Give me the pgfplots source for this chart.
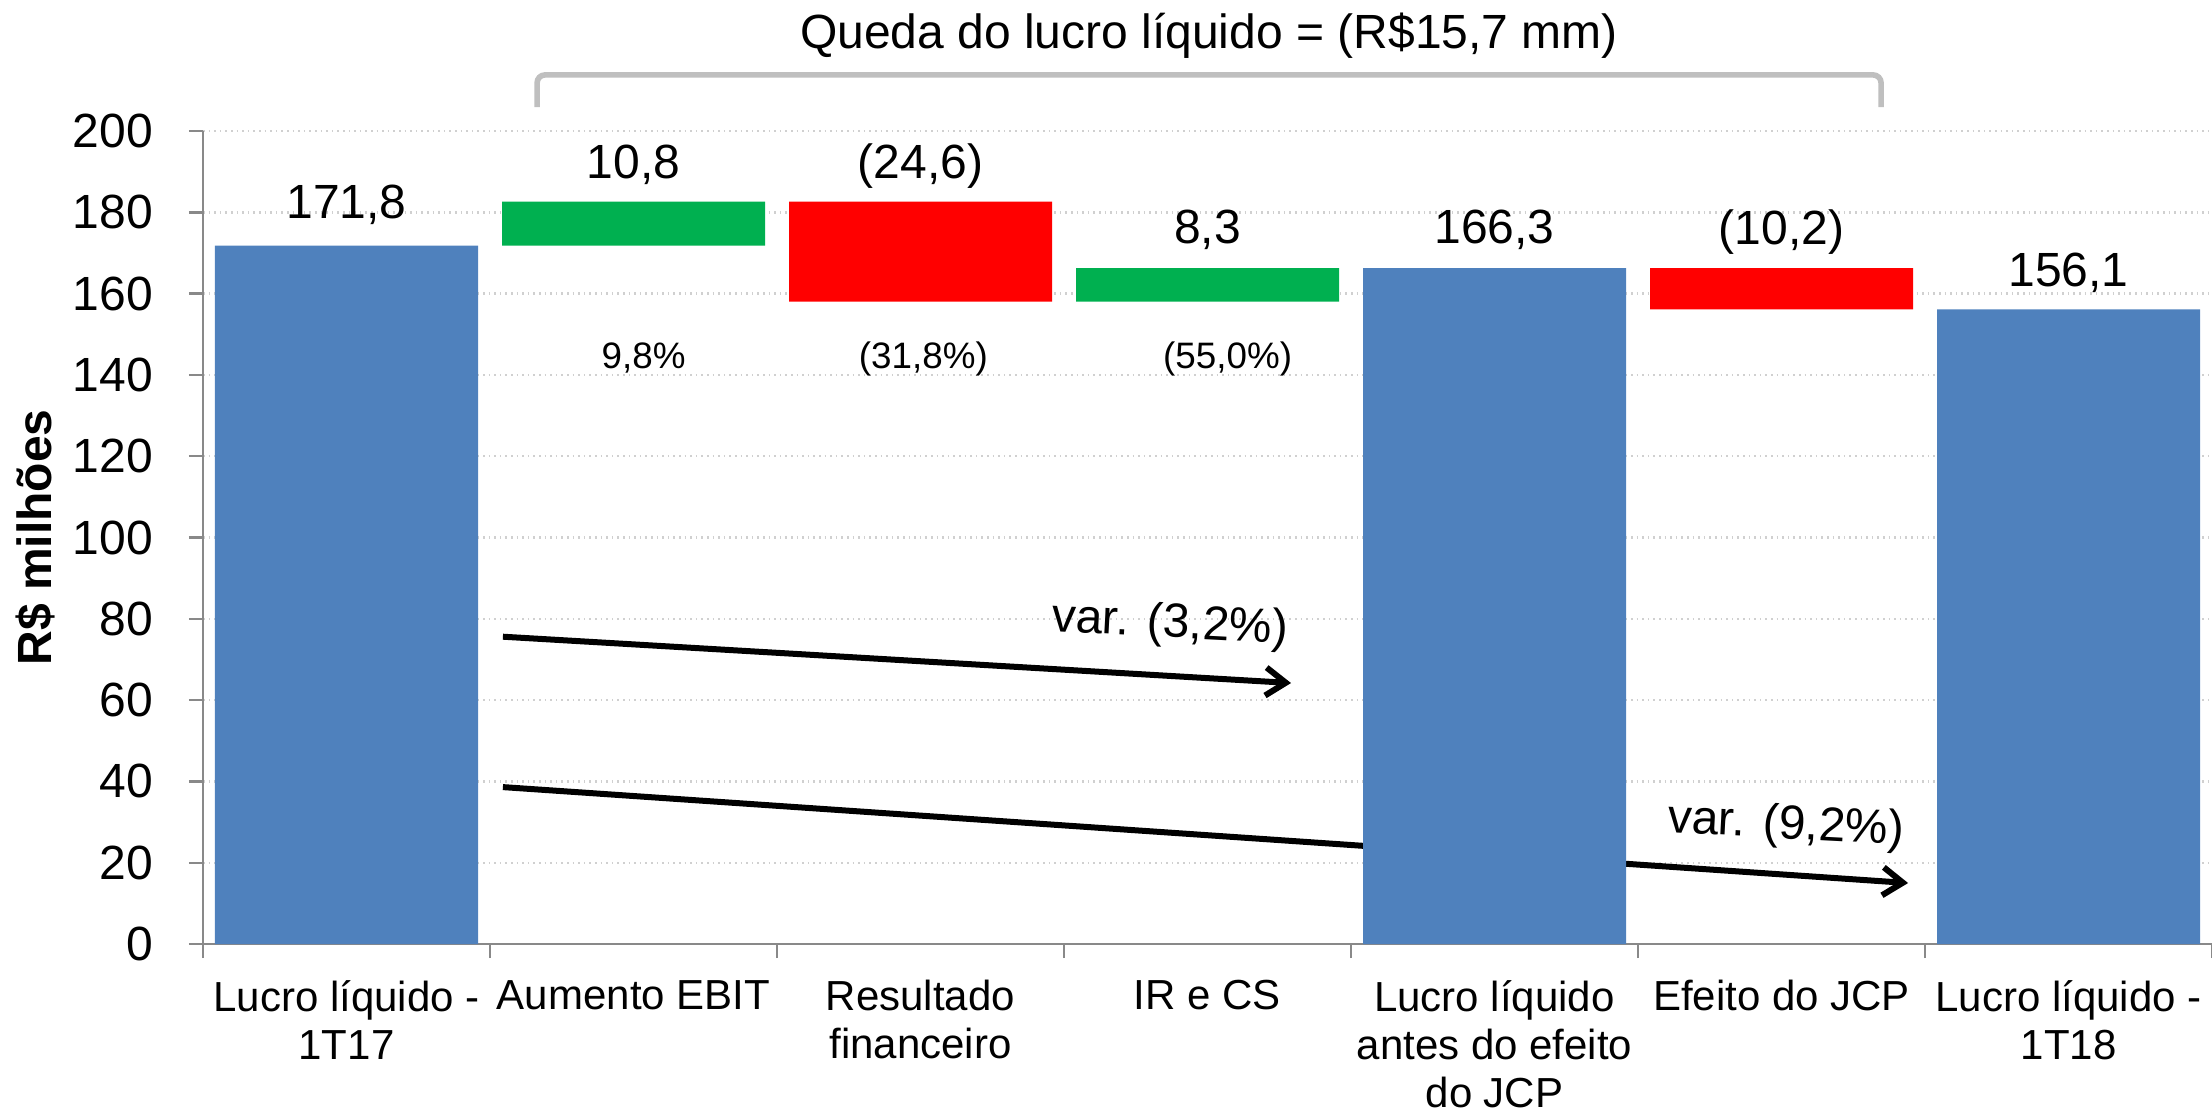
\documentclass[border=0pt]{standalone}
\usepackage{fontspec}
\setmainfont{Liberation Sans}
\usepackage{pgfplots}
\pgfplotsset{compat=1.18}
\usetikzlibrary{arrows.meta}
\definecolor{barblue}{HTML}{4F81BD}
\definecolor{bargreen}{HTML}{00B050}
\definecolor{barred}{HTML}{FF0000}
\definecolor{axisgray}{HTML}{898989}
\definecolor{brgray}{HTML}{BFBFBF}
\definecolor{gridgray}{HTML}{D0D0D0}
\newcommand{\fbig}{\fontsize{12}{14.4}\selectfont}
\newcommand{\fcat}{\fontsize{10.5}{12}\selectfont}
\newcommand{\fpct}{\fontsize{9.2}{11}\selectfont}
\begin{document}
\begin{tikzpicture}
\useasboundingbox (-50.75pt,-42.75pt) rectangle (502.25pt,236pt);
\begin{axis}[
  at={(0,0)}, anchor=south west,
  scale only axis, width=502.25pt, height=203.25pt,
  xmin=-0.5, xmax=6.5, ymin=0, ymax=200,
  enlargelimits=false,
  clip=false,
  ybar stacked, bar width=65.75pt,
  axis x line*=bottom, axis y line*=left,
  axis line style={-, axisgray, line width=0.6pt},
  xtick={-0.5,0.5,...,6.5},
  x tick label as interval,
  xticklabels={{Lucro líquido -\\1T17},{Aumento EBIT},{Resultado\\financeiro},{IR e CS},{Lucro líquido\\antes do efeito\\do JCP},{Efeito do JCP},{Lucro líquido -\\1T18}},
  xticklabel style={font=\fcat, align=center, anchor=north, yshift=-2pt},
  ytick={0,20,...,200},
  yticklabel style={font=\fbig, anchor=east, xshift=-5.5pt},
  /pgf/number format/assume math mode=true,
  tick align=outside,
  major tick length=3.5pt,
  tick style={axisgray, line width=0.6pt},
  ymajorgrids,
  major grid style={gridgray, densely dotted, line width=0.6pt},
  ylabel={\textbf{R\$ milhões}},
  ylabel style={font=\fbig, at={(axis description cs:-0.0836,0.5)}, anchor=center},
]
% invisible base
\addplot[draw=none, fill=none] coordinates {(0,0) (1,171.8) (2,158.0) (3,158.0) (4,0) (5,156.1) (6,0)};
% totals
\addplot[draw=none, fill=barblue] coordinates {(0,171.8) (1,0) (2,0) (3,0) (4,166.3) (5,0) (6,156.1)};
% increases
\addplot[draw=none, fill=bargreen] coordinates {(0,0) (1,10.8) (2,0) (3,8.3) (4,0) (5,0) (6,0)};
% decreases
\addplot[draw=none, fill=barred] coordinates {(0,0) (1,0) (2,24.6) (3,0) (4,0) (5,10.2) (6,0)};

% value labels
\node[anchor=base, font=\fbig] at (axis cs:0,178.6) {171,8};
\node[anchor=base, font=\fbig] at (axis cs:1,188.2) {10,8};
\node[anchor=base, font=\fbig] at (axis cs:2,188.2) {(24,6)};
\node[anchor=base, font=\fbig] at (axis cs:3,172.4) {8,3};
\node[anchor=base, font=\fbig] at (axis cs:4,172.4) {166,3};
\node[anchor=base, font=\fbig] at (axis cs:5,172.2) {(10,2)};
\node[anchor=base, font=\fbig] at (axis cs:6,161.7) {156,1};
% percentage labels
\node[anchor=base, font=\fpct] at (axis cs:1.035,141.5) {9,8\%};
\node[anchor=base, font=\fpct] at (axis cs:2.01,141.5) {(31,8\%)};
\node[anchor=base, font=\fpct] at (axis cs:3.07,141.5) {(55,0\%)};
% bracket and title
\draw[brgray, line width=1.4pt, rounded corners=2pt] (axis cs:0.664,205.9) -- (axis cs:0.664,213.8) -- (axis cs:5.347,213.8) -- (axis cs:5.347,205.9);
\node[anchor=base, font=\fbig] at (axis cs:3.005,220.4) {Queda do lucro líquido = (R\$15,7 mm)};
% variation arrows
\draw[black, line width=1.5pt, -{Straight Barb[length=5pt,width=7pt]}] (axis cs:0.545,75.6) -- (axis cs:3.291,64.2);
\draw[black, line width=1.5pt, -{Straight Barb[length=5pt,width=7pt]}] (axis cs:0.545,38.6) -- (axis cs:5.441,15.0);
\node[font=\fbig, rotate=-3] at (axis cs:2.869,78.5) {var. (3,2\%)};
\node[font=\fbig, rotate=-3] at (axis cs:5.016,29.0) {var. (9,2\%)};
\end{axis}
\end{tikzpicture}
\end{document}
